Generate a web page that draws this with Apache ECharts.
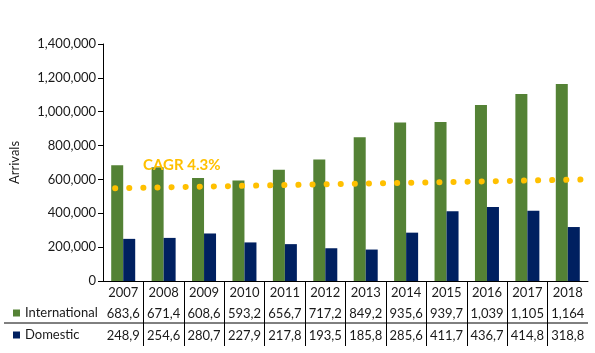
<!DOCTYPE html>
<html>
<head>
<meta charset="UTF-8">
<title>Arrivals</title>
<style>
  html, body { margin: 0; padding: 0; background: #fff; }
  #main { width: 595px; height: 353px; }
</style>
</head>
<body>
<div id="main"></div>
<script src="https://cdn.jsdelivr.net/npm/echarts@6/dist/echarts.min.js"></script>
<script>
var years = ['2007', '2008', '2009', '2010', '2011', '2012', '2013', '2014', '2015', '2016', '2017', '2018'];
var international = [683600, 671400, 608600, 593200, 656700, 717200, 849200, 935600, 939700, 1039000, 1105000, 1164000];
var domestic = [248900, 254600, 280700, 227900, 217800, 193500, 185800, 285600, 411700, 436700, 414800, 318800];
// trend line ends, x in category units (0 = left edge of 2007 band)
var trendX = [0.3, 12];
var trendY = [548000, 600000];

var FONT = 'Lato';
var TXT = '#1a1a1a';

// the data table only fits the first 5 characters of each number
function cell(v) {
  return v.toLocaleString('en-US').slice(0, 5);
}

var boundaries = years.slice(1).map(function (y, i) { return i + 1; });

var chart = echarts.init(document.getElementById('main'));
chart.setOption({
  animation: false,
  textStyle: { fontFamily: FONT },
  grid: { left: 100, right: 7, top: 44, bottom: 72 },
  legend: {
    data: ['International', 'Domestic'],
    orient: 'vertical',
    left: 8,
    top: 301,
    itemWidth: 7,
    itemHeight: 7,
    itemGap: 8,
    icon: 'rect',
    textStyle: { fontFamily: FONT, fontSize: 13, color: TXT, lineHeight: 14 }
  },
  xAxis: [
    {
      type: 'category',
      data: years,
      axisLine: { lineStyle: { color: '#000', width: 1 } },
      axisTick: { show: false },
      axisLabel: { color: TXT, fontSize: 13, fontFamily: FONT, margin: 5, interval: 0 }
    },
    {
      type: 'category',
      data: years,
      position: 'bottom',
      offset: 21,
      axisLine: { show: false },
      axisTick: { show: false },
      axisLabel: {
        color: TXT, fontSize: 13, fontFamily: FONT, margin: 5, interval: 0,
        formatter: function (v, i) { return cell(international[i]); }
      }
    },
    {
      type: 'category',
      data: years,
      position: 'bottom',
      offset: 43,
      axisLine: { show: false },
      axisTick: { show: false },
      axisLabel: {
        color: TXT, fontSize: 13, fontFamily: FONT, margin: 5, interval: 0,
        formatter: function (v, i) { return cell(domestic[i]); }
      }
    },
    {
      // hidden value axis for the trend line + table column separators
      type: 'value',
      min: 0,
      max: years.length,
      position: 'bottom',
      axisLine: { show: false },
      axisLabel: { show: false },
      splitLine: { show: false },
      axisTick: {
        show: true,
        customValues: boundaries,
        length: 65,
        lineStyle: { color: '#000', width: 1 }
      }
    }
  ],
  yAxis: {
    type: 'value',
    min: 0,
    max: 1400000,
    interval: 200000,
    name: 'Arrivals',
    nameLocation: 'middle',
    nameGap: 82,
    nameTextStyle: { color: TXT, fontSize: 13, fontFamily: FONT },
    axisLine: { show: true, lineStyle: { color: '#000', width: 1 } },
    axisTick: { show: true, length: 5, lineStyle: { color: '#000' } },
    splitLine: { show: false },
    axisLabel: {
      color: TXT, fontSize: 13, fontFamily: FONT, margin: 7,
      formatter: function (v) { return v.toLocaleString('en-US'); }
    }
  },
  series: [
    {
      name: 'International',
      type: 'bar',
      xAxisIndex: 0,
      data: international,
      barWidth: 12,
      barGap: '0%',
      itemStyle: { color: '#548235' }
    },
    {
      name: 'Domestic',
      type: 'bar',
      xAxisIndex: 0,
      data: domestic,
      barWidth: 12,
      barGap: '0%',
      itemStyle: { color: '#002060' }
    },
    {
      name: 'Trend',
      type: 'line',
      xAxisIndex: 3,
      data: [[trendX[0], trendY[0]], [trendX[1], trendY[1]]],
      symbol: 'none',
      lineStyle: { color: '#FFC000', width: 6, type: [0.1, 14], cap: 'round' },
      z: 5
    }
  ],
  graphic: [
    {
      type: 'line',
      shape: { x1: 4, y1: 323, x2: 588, y2: 323 },
      style: { stroke: '#000', lineWidth: 1 }
    },
    {
      type: 'text',
      left: 143,
      top: 158,
      style: { text: 'CAGR 4.3%', fill: '#FFC000', font: 'bold 15px Lato' },
      z: 10
    }
  ]
});
</script>
</body>
</html>
